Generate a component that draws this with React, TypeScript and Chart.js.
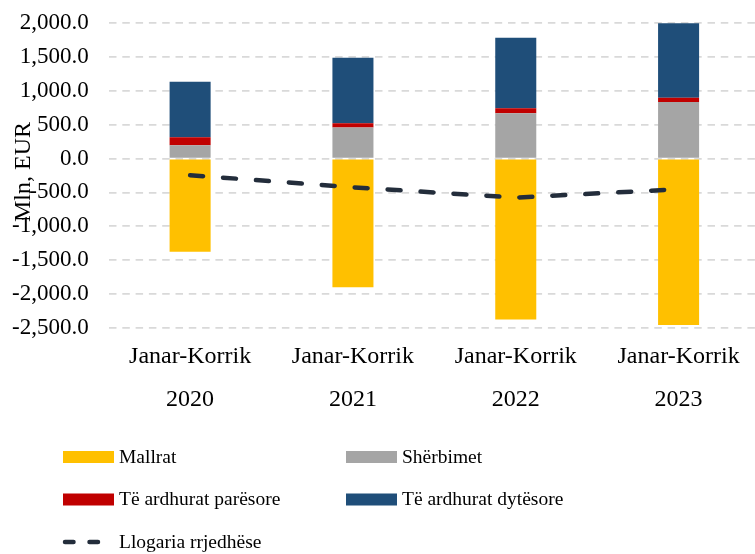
import React, { useEffect, useRef } from "react";
import { Chart, registerables } from "chart.js";

Chart.register(...registerables);

// ---- data ----
const periodLabel = "Janar-Korrik";
const years = ["2020", "2021", "2022", "2023"];
const mallrat = [-1376, -1903, -2377, -2461];
const sherbimet = [198, 459, 672, 835];
const teArdhuratParesore = [119, 65, 74, 63];
const teArdhuratDytesore = [818, 966, 1040, 1107];
const llogariaRrjedhese = [-246, -424, -577, -453];
const yMin = -2500;
const yMax = 2000;
const yStep = 500;
const yTitle = "Mln, EUR";
const seriesNames = [
  "Mallrat",
  "Shërbimet",
  "Të ardhurat parësore",
  "Të ardhurat dytësore",
  "Llogaria rrjedhëse",
];

const FONT = '"Liberation Serif", "Times New Roman", Times, serif';
const LINE_COLOR = "#232d3b";

const yTitlePlugin = {
  id: "yTitleOverlay",
  afterDraw(chart: any) {
    const ctx = chart.ctx;
    ctx.save();
    ctx.translate(24, 172);
    ctx.rotate(-Math.PI / 2);
    ctx.font = `24px ${FONT}`;
    ctx.fillStyle = "#000";
    ctx.textAlign = "center";
    ctx.textBaseline = "middle";
    ctx.fillText(yTitle, 0, 0);
    ctx.restore();
  },
};

const legendPlugin = {
  id: "gridLegend",
  afterDraw(chart: any) {
    const ctx = chart.ctx;
    const ds = chart.data.datasets;
    const slots = [
      [63, 457],
      [346, 457],
      [63, 499.5],
      [346, 499.5],
      [63, 542],
    ];
    ctx.save();
    ctx.font = `19.5px ${FONT}`;
    ctx.textBaseline = "middle";
    ctx.textAlign = "left";
    ds.forEach((d: any, i: number) => {
      const [x, y] = slots[i];
      if (d.type === "line") {
        ctx.save();
        ctx.strokeStyle = d.borderColor;
        ctx.lineWidth = 4.5;
        ctx.lineCap = "round";
        ctx.setLineDash([8.5, 16]);
        ctx.beginPath();
        ctx.moveTo(x + 2, y);
        ctx.lineTo(x + 36, y);
        ctx.stroke();
        ctx.restore();
      } else {
        ctx.fillStyle = d.backgroundColor;
        ctx.fillRect(x, y - 6, 51, 12);
      }
      ctx.fillStyle = "#000";
      ctx.fillText(d.label, x + 56, y + 0.5);
    });
    ctx.restore();
  },
};

export default function App() {
  const ref = useRef<HTMLCanvasElement | null>(null);

  useEffect(() => {
    if (!ref.current) return;
    const labels = years.map((y) => [periodLabel, y]);
    const chart = new Chart(ref.current, {
      type: "bar",
      data: {
        labels,
        datasets: [
          {
            type: "bar",
            label: seriesNames[0],
            data: mallrat,
            backgroundColor: "#FFC000",
            stack: "s",
            order: 1,
          },
          {
            type: "bar",
            label: seriesNames[1],
            data: sherbimet,
            backgroundColor: "#A5A5A5",
            stack: "s",
            order: 1,
          },
          {
            type: "bar",
            label: seriesNames[2],
            data: teArdhuratParesore,
            backgroundColor: "#C00000",
            stack: "s",
            order: 1,
          },
          {
            type: "bar",
            label: seriesNames[3],
            data: teArdhuratDytesore,
            backgroundColor: "#1F4E79",
            stack: "s",
            order: 1,
          },
          {
            type: "line",
            label: seriesNames[4],
            data: llogariaRrjedhese,
            borderColor: LINE_COLOR,
            backgroundColor: LINE_COLOR,
            borderWidth: 4.5,
            borderDash: [13, 20],
            borderCapStyle: "round",
            pointRadius: 0,
            tension: 0,
            stack: "line",
            order: 0,
          } as any,
        ],
      },
      options: {
        responsive: false,
        animation: false,
        layout: { padding: { top: 23.3, left: 0, right: 0, bottom: 126.3 } },
        datasets: {
          bar: { barPercentage: 0.252, categoryPercentage: 1 },
        },
        plugins: {
          legend: { display: false },
          tooltip: { enabled: false },
        },
        scales: {
          x: {
            stacked: true,
            grid: { display: false, drawTicks: false },
            border: { display: false },
            ticks: {
              color: "#000",
              font: { family: FONT, size: 24, lineHeight: 1.78 },
              padding: 8,
              maxRotation: 0,
              autoSkip: false,
            },
            afterFit: (s: any) => {
              s.height = 100;
              s.paddingLeft = 0;
              s.paddingRight = 0;
            },
          },
          y: {
            stacked: true,
            min: yMin,
            max: yMax,
            grid: {
              color: "#d9d9d9",
              lineWidth: 1.8,
              drawTicks: false,
            },
            border: { display: false, dash: [7.5, 5.8] },
            ticks: {
              stepSize: yStep,
              color: "#000",
              font: { family: FONT, size: 23 },
              padding: 20,
              callback: (v: any) =>
                Number(v).toLocaleString("en-US", {
                  minimumFractionDigits: 1,
                  maximumFractionDigits: 1,
                }),
            },
            afterFit: (s: any) => {
              s.width = 108.7;
              s.paddingTop = 0;
              s.paddingBottom = 0;
            },
          },
        },
      },
      plugins: [yTitlePlugin, legendPlugin],
    } as any);
    return () => chart.destroy();
  }, []);

  return (
    <div
      style={{
        position: "absolute",
        left: 0,
        top: 0,
        width: 755,
        height: 554,
        overflow: "hidden",
        background: "#fff",
      }}
    >
      <canvas ref={ref} width={760} height={554} style={{ display: "block" }} />
    </div>
  );
}
